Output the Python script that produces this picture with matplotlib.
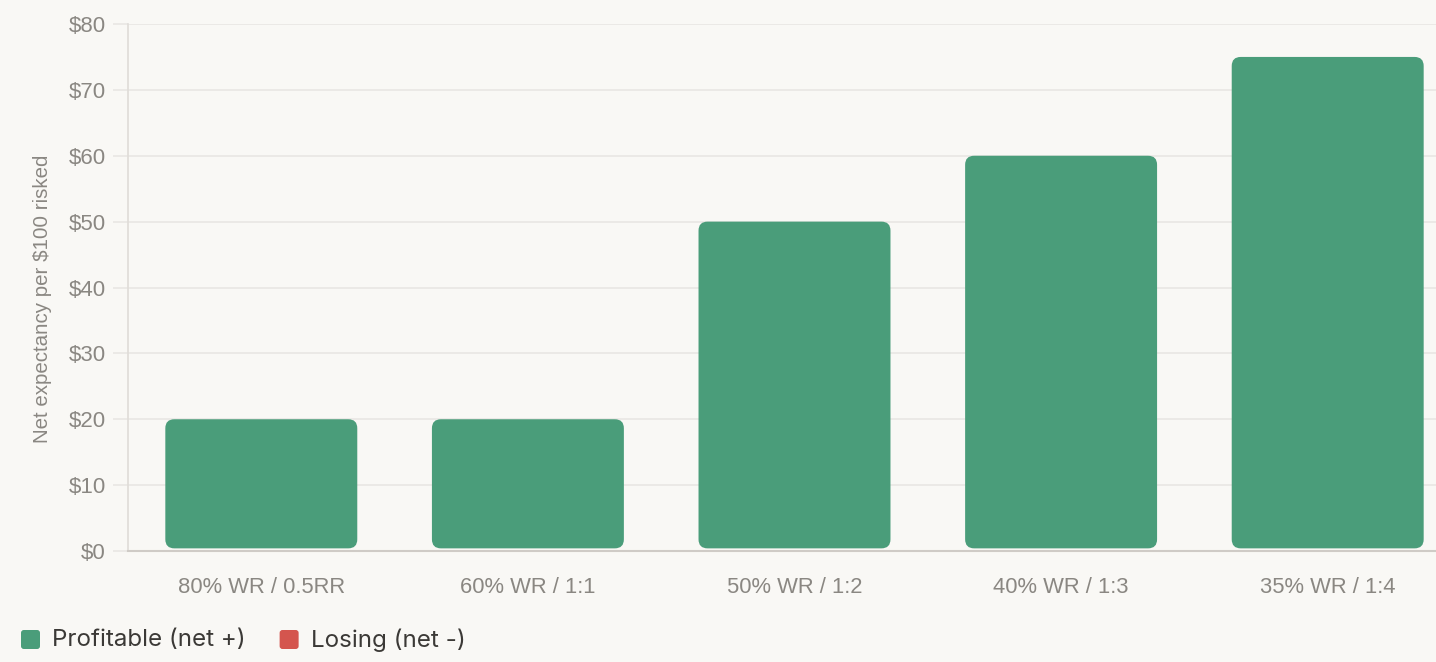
import matplotlib
matplotlib.use("Agg")
import matplotlib.pyplot as plt
from matplotlib.patches import FancyBboxPatch
from matplotlib.ticker import FuncFormatter

# 数据
categories = ["80% WR / 0.5RR", "60% WR / 1:1", "50% WR / 1:2", "40% WR / 1:3", "35% WR / 1:4"]
net_values = [20, 20, 50, 60, 75]
legend_labels = ["Profitable (net +)", "Losing (net -)"]

GREEN = "#4a9d7a"
RED = "#d4554e"
BG = "#f9f8f5"
GRID = "#e9e7e3"
TICK = "#8a8782"

W, H = 1436, 662
fig = plt.figure(figsize=(W / 100, H / 100), dpi=100, facecolor=BG)
ax = fig.add_axes([128 / W, (H - 551) / H, (W - 128) / W, (551 - 24) / H], facecolor=BG)

ax.set_xlim(-0.5, -0.5 + (W - 128) / 266.6)
ax.set_ylim(0, 80)

# 圆角柱子
bar_w = 0.72
px_x = 266.6
px_y = 527 / 80
for i, v in enumerate(net_values):
    color = GREEN if v >= 0 else RED
    r = 9 / px_x
    patch = FancyBboxPatch((i - bar_w / 2, 0.4), bar_w, v - 0.4,
                           boxstyle=f"round,pad=0,rounding_size={r}",
                           mutation_aspect=px_x / px_y,
                           facecolor=color, edgecolor="none", zorder=3)
    ax.add_patch(patch)

ax.set_yticks(range(0, 81, 10))
ax.yaxis.set_major_formatter(FuncFormatter(lambda v, p: f"${v:.0f}"))
ax.set_xticks(range(len(categories)))
ax.set_xticklabels(categories)

ax.grid(axis="y", color=GRID, linewidth=1.2, zorder=0)
ax.set_axisbelow(True)
for s in ["top", "right"]:
    ax.spines[s].set_visible(False)
ax.spines["left"].set_color("#dfdcd8")
ax.spines["left"].set_linewidth(1.2)
ax.spines["bottom"].set_color("#cfcbc6")
ax.spines["bottom"].set_linewidth(1.5)

ax.tick_params(axis="y", length=11, width=1.2, color=GRID, pad=5,
               labelsize=16, labelcolor=TICK)
ax.tick_params(axis="x", length=0, pad=19, labelsize=15.8, labelcolor=TICK)
for lab in ax.get_xticklabels() + ax.get_yticklabels():
    lab.set_fontfamily("Liberation Sans")

fig.text(43 / W, 1 - 299 / H, "Net expectancy per $100 risked", rotation=90,
         ha="center", va="center", fontsize=14.8, color=TICK, family="Liberation Sans")

# 图例
x = 21
for label, color in zip(legend_labels, [GREEN, RED]):
    sq = FancyBboxPatch((x / W, 1 - 649 / H), 19 / W, 19 / H,
                        boxstyle="round,pad=0,rounding_size=0.002",
                        mutation_aspect=W / H,
                        transform=fig.transFigure, facecolor=color, edgecolor="none")
    fig.patches.append(sq)
    t = fig.text((x + 31) / W, 1 - 640 / H, label, ha="left", va="center",
                 fontsize=17.4, color="#3b3936", family="Inter")
    fig.canvas.draw()
    bb = t.get_window_extent()
    x = bb.x1 + 34

fig.savefig("out.png", dpi=100, facecolor=BG)
